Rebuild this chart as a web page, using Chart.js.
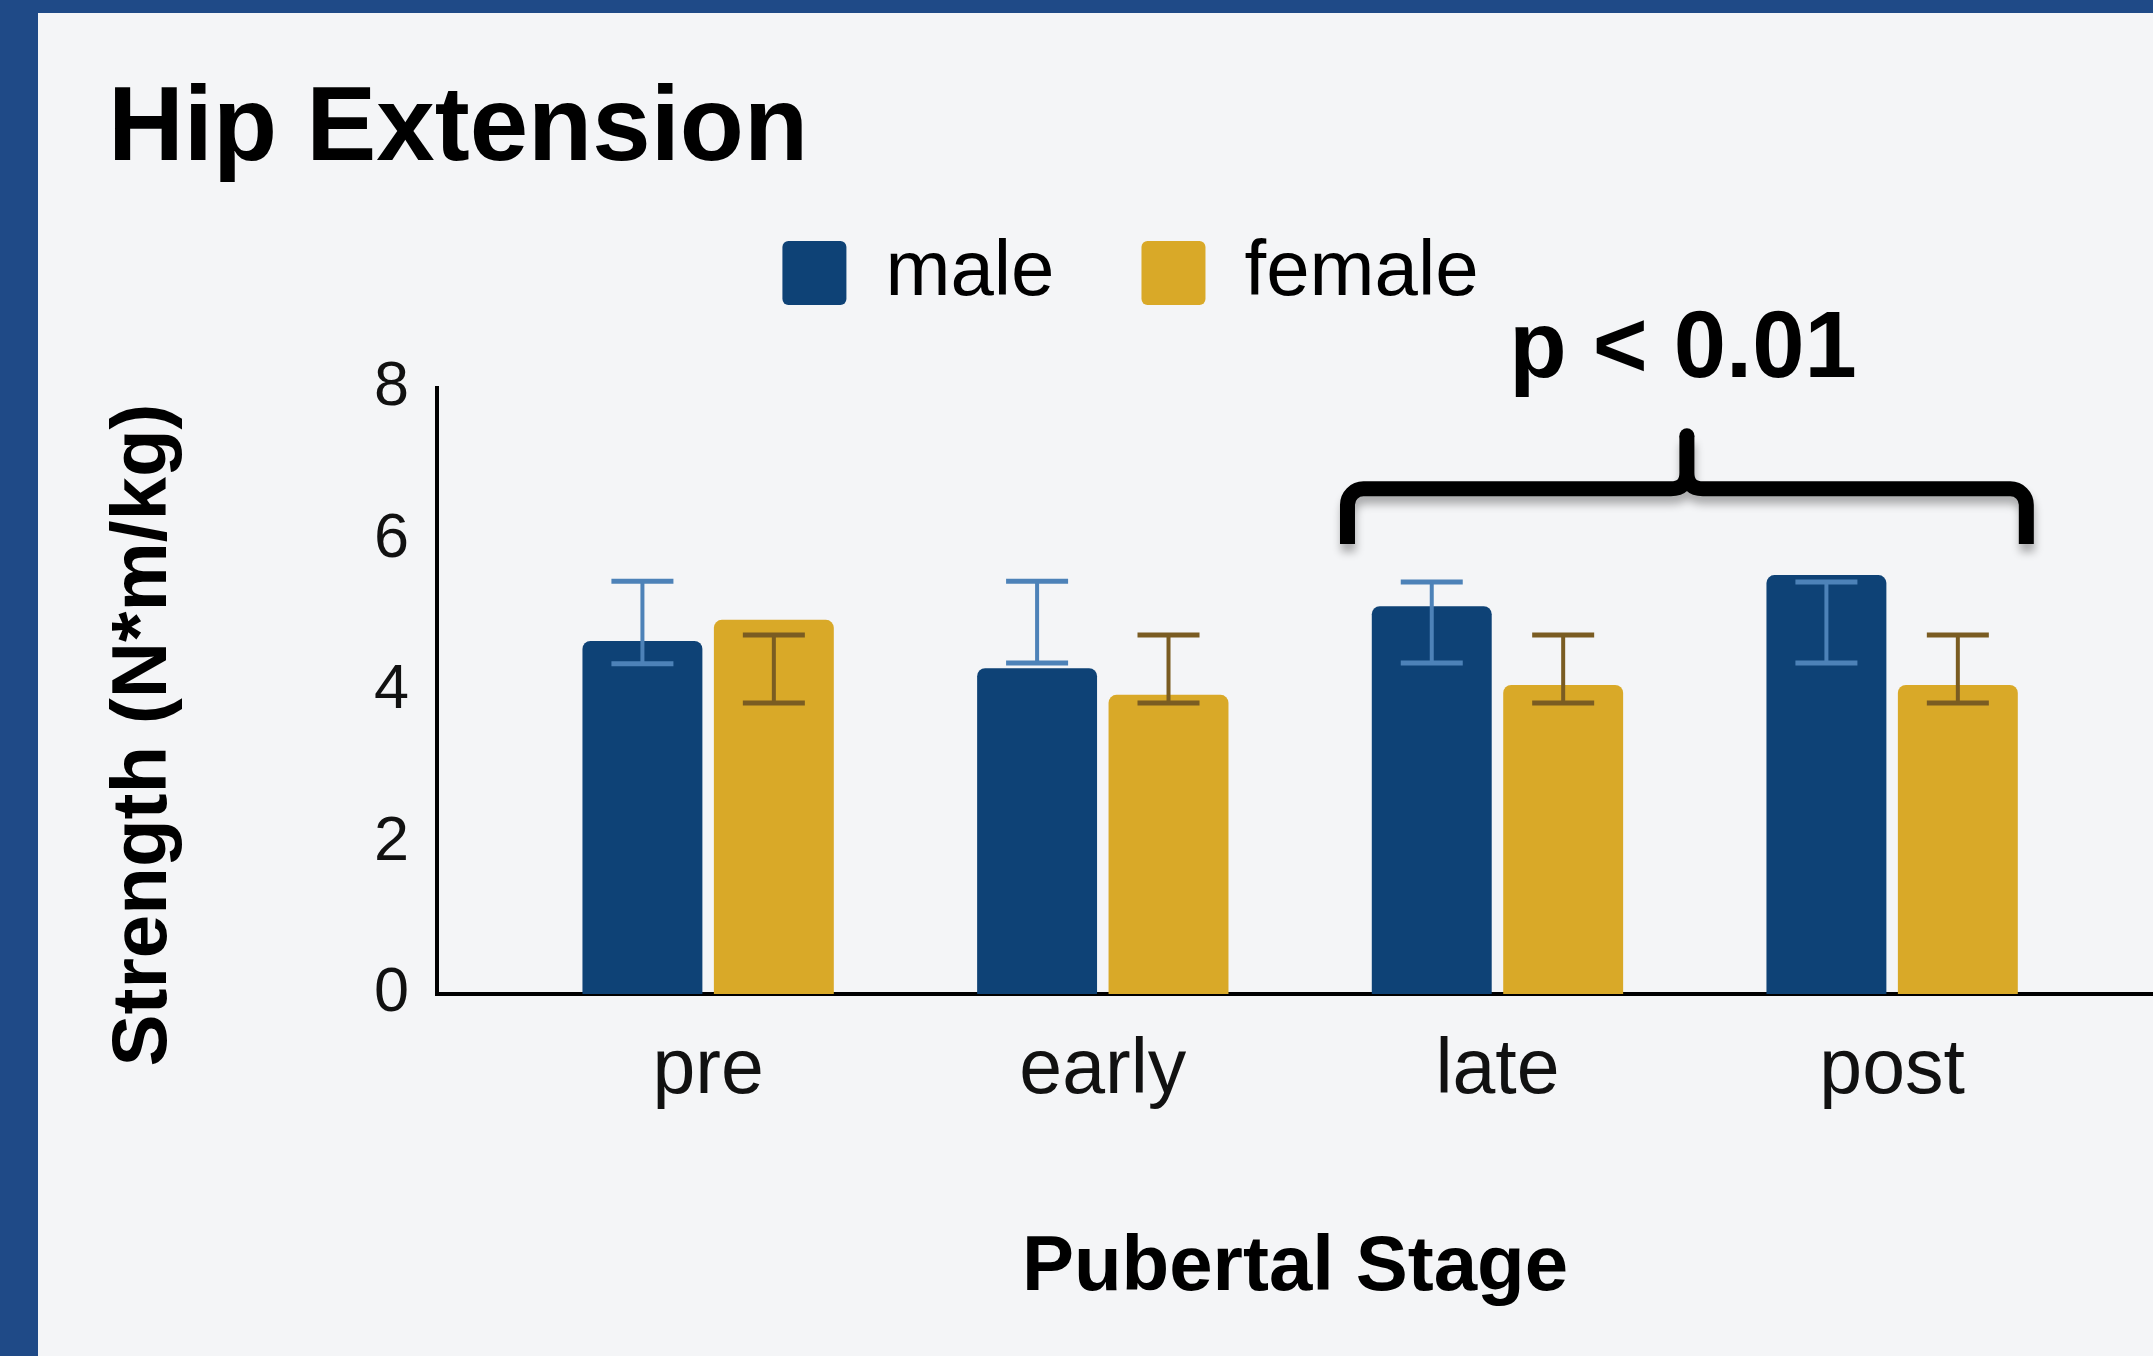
<!DOCTYPE html>
<html>
<head>
<meta charset="utf-8">
<title>Hip Extension</title>
<script src="https://cdn.jsdelivr.net/npm/chart.js@4.4.1/dist/chart.umd.min.js"></script>
<style>
  html, body { margin: 0; padding: 0; }
  body { background: #1f4a87; width: 2153px; height: 1356px; overflow: hidden; position: relative; }
  #panel { position: absolute; left: 38px; top: 13px; width: 2115px; height: 1343px; background: #f4f5f7; }
</style>
</head>
<body>
<div id="panel"><canvas id="chart" width="2115" height="1343"></canvas></div>
<script>
// data
var stages = ['pre', 'early', 'late', 'post'];
var male = [4.66, 4.30, 5.12, 5.53];
var female = [4.94, 3.95, 4.08, 4.08];
var maleErrLow = [4.36, 4.37, 4.37, 4.37];
var maleErrHigh = [5.45, 5.45, 5.44, 5.44];
var femaleErrLow = [3.84, 3.84, 3.84, 3.84];
var femaleErrHigh = [4.74, 4.74, 4.74, 4.74];
var yRange = [0, 8];
var yStep = 2;
var xRange = [0.313, 4.661];

// significance note (in axis units)
var pNote = 'p < 0.01';
var pNoteAt = [3.47, 8.15];
var brace = { from: 2.62, to: 4.34, tip: 3.48, line: 6.67, ends: 5.94, top: 7.37 };

var FONT = "'Liberation Sans', Arial, Helvetica, sans-serif";
var MALE = '#0e4276', FEMALE = '#d9a928';
var MALE_ERR = '#4d82b8', FEMALE_ERR = '#7a5c22';

var errorBars = {
	id: 'errorBars',
	afterDatasetsDraw: function(chart) {
		var ctx = chart.ctx, y = chart.scales.y;
		var sets = [[maleErrLow, maleErrHigh, MALE_ERR], [femaleErrLow, femaleErrHigh, FEMALE_ERR]];
		ctx.save();
		sets.forEach(function(s, i) {
			chart.getDatasetMeta(i).data.forEach(function(bar, j) {
				var top = y.getPixelForValue(s[1][j]);
				var bot = y.getPixelForValue(s[0][j]);
				ctx.strokeStyle = s[2];
				ctx.lineWidth = 4;
				ctx.beginPath();
				ctx.moveTo(bar.x, top);
				ctx.lineTo(bar.x, bot);
				ctx.stroke();
				ctx.lineWidth = 5;
				ctx.beginPath();
				ctx.moveTo(bar.x - 31, top); ctx.lineTo(bar.x + 31, top);
				ctx.moveTo(bar.x - 31, bot); ctx.lineTo(bar.x + 31, bot);
				ctx.stroke();
			});
		});
		ctx.restore();
	}
};

var notes = {
	id: 'notes',
	afterDraw: function(chart) {
		var ctx = chart.ctx, x = chart.scales.x, y = chart.scales.y;
		/* ------------------------------------------------------ */
		// curly brace over late + post
		var x1 = x.getPixelForValue(brace.from), x2 = x.getPixelForValue(brace.to);
		var xm = x.getPixelForValue(brace.tip);
		var yh = y.getPixelForValue(brace.line), ye = y.getPixelForValue(brace.ends);
		var yt = y.getPixelForValue(brace.top);
		var r = 16;
		ctx.save();
		ctx.strokeStyle = '#000';
		ctx.fillStyle = '#000';
		ctx.lineWidth = 15;
		ctx.lineJoin = 'round';
		ctx.shadowColor = 'rgba(0,0,0,0.3)';
		ctx.shadowBlur = 8;
		ctx.shadowOffsetX = 1;
		ctx.shadowOffsetY = 8;
		ctx.beginPath();
		ctx.moveTo(x1, ye);
		ctx.arcTo(x1, yh, x1 + r, yh, r);
		ctx.lineTo(xm - r, yh);
		ctx.quadraticCurveTo(xm, yh, xm, yh - r);
		ctx.lineTo(xm, yt);
		ctx.moveTo(xm, yh - r);
		ctx.quadraticCurveTo(xm, yh, xm + r, yh);
		ctx.lineTo(x2 - r, yh);
		ctx.arcTo(x2, yh, x2, ye, r);
		ctx.lineTo(x2, ye);
		ctx.stroke();
		ctx.shadowColor = 'rgba(0,0,0,0)';
		ctx.beginPath();
		ctx.arc(xm, yt, 7.5, 0, Math.PI * 2);
		ctx.fill();
		ctx.restore();
		/* ------------------------------------------------------ */
		ctx.save();
		ctx.fillStyle = '#000';
		ctx.font = 'bold 94px ' + FONT;
		ctx.textAlign = 'center';
		ctx.textBaseline = 'alphabetic';
		ctx.fillText(pNote, x.getPixelForValue(pNoteAt[0]), y.getPixelForValue(pNoteAt[1]));
		ctx.restore();
		/* ------------------------------------------------------ */
		// y axis title, sits a bit below the plot centre in the original
		ctx.save();
		ctx.fillStyle = '#000';
		ctx.font = 'bold 78px ' + FONT;
		ctx.textAlign = 'center';
		ctx.textBaseline = 'middle';
		ctx.translate(106, 722);
		ctx.rotate(-Math.PI / 2);
		ctx.fillText('Strength (N*m/kg)', 0, 0);
		ctx.restore();
	}
};

function points(vals) {
	return vals.map(function(v, i) { return { x: i + 1, y: v }; });
}

window.myChart = new Chart(document.getElementById('chart'), {
	type: 'bar',
	data: {
		datasets: [
			{
				label: 'male',
				data: points(male),
				backgroundColor: MALE,
				borderWidth: 0,
				borderRadius: { topLeft: 8, topRight: 8, bottomLeft: 0, bottomRight: 0 },
				categoryPercentage: 0.666,
				barPercentage: 0.9125,
				xAxisID: 'x'
			},
			{
				label: 'female',
				data: points(female),
				backgroundColor: FEMALE,
				borderWidth: 0,
				borderRadius: { topLeft: 8, topRight: 8, bottomLeft: 0, bottomRight: 0 },
				categoryPercentage: 0.666,
				barPercentage: 0.9125,
				xAxisID: 'x'
			}
		]
	},
	options: {
		responsive: false,
		devicePixelRatio: 1,
		animation: false,
		events: [],
		layout: { padding: { left: 70, right: 0, top: 0, bottom: 0 } },
		plugins: {
			tooltip: { enabled: false },
			title: {
				display: true,
				text: 'Hip Extension',
				align: 'start',
				color: '#000',
				font: { family: FONT, size: 105, weight: 'bold', lineHeight: 1.2 },
				padding: { top: 55, bottom: -47 }
			},
			legend: {
				position: 'top',
				align: 'center',
				labels: {
					color: '#000',
					font: { family: FONT, size: 78 },
					boxWidth: 64,
					boxHeight: 64,
					padding: 87,
					useBorderRadius: true,
					borderRadius: 6
				}
			}
		},
		scales: {
			x: {
				type: 'linear',
				position: 'bottom',
				min: xRange[0],
				max: xRange[1],
				offset: false,
				grid: { display: false, drawTicks: false },
				border: { display: true, color: '#000', width: 4 },
				ticks: {
					stepSize: 1,
					includeBounds: false,
					autoSkip: false,
					maxRotation: 0,
					padding: 32,
					color: '#111',
					font: { family: FONT, size: 77 },
					callback: function(v) { return stages[v - 1] || ''; }
				},
				title: {
					display: true,
					text: 'Pubertal Stage',
					color: '#000',
					font: { family: FONT, size: 78, weight: 'bold' },
					padding: { top: 0, bottom: 41 }
				},
				afterFit: function(s) { s.height = 362; }
			},
			pad: {
				type: 'linear',
				axis: 'x',
				position: 'top',
				grid: { display: false, drawTicks: false },
				border: { display: false },
				ticks: { display: false },
				afterFit: function(s) { s.height = 66; }
			},
			y: {
				min: yRange[0],
				max: yRange[1],
				grid: { display: false, drawTicks: false },
				border: { display: true, color: '#000', width: 4 },
				ticks: {
					stepSize: yStep,
					padding: 28,
					color: '#111',
					font: { family: FONT, size: 63 }
				},
				afterFit: function(s) { s.width = 329; }
			}
		}
	},
	plugins: [errorBars, notes]
});
</script>
</body>
</html>
